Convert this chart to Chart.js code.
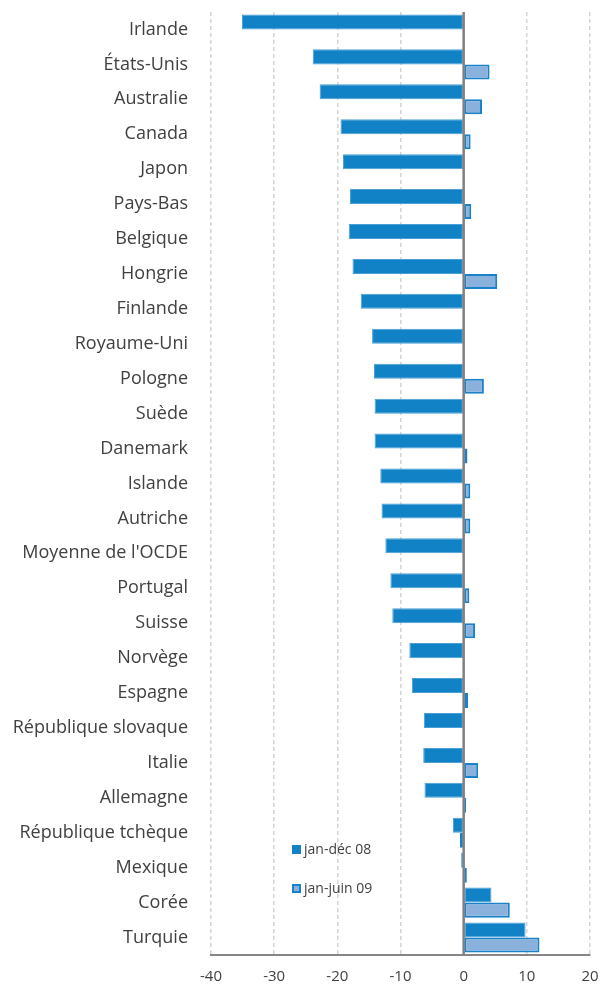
<!DOCTYPE html>
<html>
<head>
<meta charset="utf-8">
<script src="https://cdn.jsdelivr.net/npm/chart.js@4"></script>
<style>
  html, body { margin: 0; padding: 0; background: #fff; }
  #wrap { position: relative; width: 601px; height: 995px; }
  .legend { position: absolute; left: 292px; font: 14px "Open Sans", sans-serif; line-height: 18px; color: #404040; display: flex; align-items: center; }
  .legend .box { width: 9px; height: 9px; margin-right: 3px; box-sizing: border-box; }
</style>
</head>
<body>
<div id="wrap">
  <canvas id="chart" width="601" height="995"></canvas>
  <div class="legend" style="top:840px"><span class="box" style="background:#1282c6"></span>jan-déc 08</div>
  <div class="legend" style="top:879px"><span class="box" style="background:#8ab0dc;border:2px solid #1a82c8"></span>jan-juin 09</div>
</div>
<script>
// Categories and series
const countries = ["Irlande", "États-Unis", "Australie", "Canada", "Japon", "Pays-Bas", "Belgique",
    "Hongrie", "Finlande", "Royaume-Uni", "Pologne", "Suède", "Danemark", "Islande", "Autriche",
    "Moyenne de l'OCDE", "Portugal", "Suisse", "Norvège", "Espagne", "République slovaque",
    "Italie", "Allemagne", "République tchèque", "Mexique", "Corée", "Turquie"];

const janDec08 = [-35.1, -23.9, -22.8, -19.5, -19.1, -18.0, -18.2,
    -17.6, -16.3, -14.5, -14.2, -14.1, -14.1, -13.2, -13.0,
    -12.4, -11.6, -11.3, -8.6, -8.2, -6.3,
    -6.4, -6.2, -1.7, -0.4, 4.4, 9.8];

const janJuin09 = [null, 4.1, 2.9, 1.1, null, 1.2, null,
    5.3, null, null, 3.2, null, 0.6, 1.05, 1.05,
    null, 0.9, 1.8, null, 0.7, null,
    2.3, 0.4, -0.6, 0.5, 7.3, 12.0];

const xTicks = [-40, -30, -20, -10, 0, 10, 20];

const labelColor = "#404040";

// solid grey line at zero, drawn over the bars
const zeroLine = {
    id: "zeroLine",
    afterDatasetsDraw(chart) {
        const x = chart.scales.x.getPixelForValue(0);
        const { top, bottom } = chart.chartArea;
        const ctx = chart.ctx;
        ctx.save();
        ctx.strokeStyle = "#808080";
        ctx.lineWidth = 2.5;
        ctx.beginPath();
        ctx.moveTo(x, top);
        ctx.lineTo(x, bottom);
        ctx.stroke();
        ctx.restore();
    }
};

new Chart(document.getElementById("chart"), {
    type: "bar",
    data: {
        labels: countries,
        datasets: [
            {
                label: "jan-déc 08",
                data: janDec08,
                backgroundColor: "#1282c6",
                borderColor: "#4a9fd6",
                borderWidth: 1,
                borderSkipped: false
            },
            {
                label: "jan-juin 09",
                data: janJuin09,
                backgroundColor: "#8ab0dc",
                borderColor: "#1a82c8",
                borderWidth: 2,
                borderSkipped: false
            }
        ]
    },
    options: {
        indexAxis: "y",
        responsive: false,
        animation: false,
        categoryPercentage: 0.86,
        barPercentage: 1.0,
        layout: { padding: { top: 12, right: 11, left: 0, bottom: 0 } },
        plugins: { legend: { display: false }, tooltip: { enabled: false } },
        scales: {
            x: {
                min: -40,
                max: 20,
                afterBuildTicks: s => { s.ticks = xTicks.map(v => ({ value: v })); },
                afterFit: s => { s.height = 40; },
                border: { display: true, color: "#868686", width: 2, dash: [4, 3] },
                grid: {
                    color: ctx => ctx.tick && ctx.tick.value === 0 ? "rgba(0,0,0,0)" : "#d4d4d4",
                    lineWidth: 1.5,
                    drawTicks: true,
                    tickLength: 13,
                    tickColor: "rgba(0,0,0,0)"
                },
                ticks: { padding: 0, color: labelColor, font: { family: "Open Sans", size: 15 } }
            },
            y: {
                afterFit: s => { s.width = 211; },
                border: { display: false },
                grid: { display: true, drawOnChartArea: false, drawTicks: true, tickLength: 23, tickColor: "rgba(0,0,0,0)" },
                ticks: { padding: 0, color: labelColor, font: { family: "Open Sans", size: 18 }, autoSkip: false }
            }
        }
    },
    plugins: [zeroLine]
});
</script>
</body>
</html>
